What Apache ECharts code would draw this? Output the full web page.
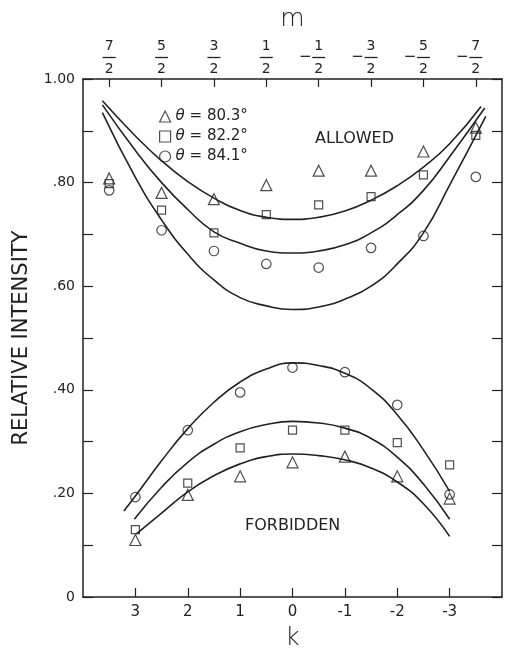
<!DOCTYPE html>
<html>
<head>
<meta charset="utf-8">
<script src="https://cdn.jsdelivr.net/npm/echarts@6/dist/echarts.min.js"></script>
<style>html,body{margin:0;padding:0;background:#fff}#c{width:505px;height:656px}</style>
</head>
<body>
<div id="c"></div>
<script>
// ---- data ----
const mValues = [3.5, 2.5, 1.5, 0.5, -0.5, -1.5, -2.5, -3.5];          // allowed points (top axis m)
const mLabels = [['7','2',false],['5','2',false],['3','2',false],['1','2',false],['1','2',true],['3','2',true],['5','2',true],['7','2',true]];
const kValues = [3, 2, 1, 0, -1, -2, -3];                                // forbidden points (bottom axis k)
const yTicks = [0, 0.2, 0.4, 0.6, 0.8, 1.0];

const allowed80 = [0.808, 0.780, 0.768, 0.795, 0.823, 0.823, 0.860, 0.906];
const allowed82 = [0.798, 0.747, 0.703, 0.738, 0.757, 0.773, 0.815, 0.891];
const allowed84 = [0.785, 0.708, 0.668, 0.643, 0.636, 0.674, 0.697, 0.811];

const forbidden80 = [0.110, 0.197, 0.233, 0.260, 0.271, 0.233, 0.190];
const forbidden82 = [0.130, 0.220, 0.288, 0.322, 0.322, 0.298, 0.255];
const forbidden84 = [0.193, 0.322, 0.395, 0.443, 0.434, 0.371, 0.198];

// fitted curves
const curveA80k = [3.63, 3, 2.5, 2, 1.5, 1, 0.5, 0, -0.5, -1, -1.5, -2, -2.5, -3, -3.6];
const curveA80  = [0.958, 0.890, 0.842, 0.802, 0.770, 0.746, 0.733, 0.729, 0.733, 0.745, 0.766, 0.794, 0.830, 0.875, 0.947];
const curveA82k = [3.63, 3, 2.5, 2, 1.5, 1, 0.5, 0, -0.5, -1, -1.5, -2, -2.5, -3, -3.67];
const curveA82  = [0.950, 0.862, 0.800, 0.748, 0.705, 0.683, 0.668, 0.664, 0.668, 0.680, 0.703, 0.738, 0.785, 0.850, 0.944];
const curveA84k = [3.63, 3, 2.5, 2, 1.5, 1, 0.5, 0, -0.5, -1, -1.5, -2, -2.5, -3, -3.69];
const curveA84  = [0.935, 0.810, 0.728, 0.662, 0.612, 0.578, 0.562, 0.555, 0.560, 0.575, 0.600, 0.643, 0.703, 0.795, 0.928];

const curveF84k = [3.22, 3, 2.5, 2, 1.5, 1, 0.5, 0, -0.5, -1, -1.5, -2, -2.5, -3];
const curveF84  = [0.166, 0.195, 0.263, 0.325, 0.376, 0.415, 0.440, 0.452, 0.447, 0.432, 0.402, 0.352, 0.284, 0.204];
const curveF82k = [3.02, 2.5, 2, 1.5, 1, 0.5, 0, -0.5, -1, -1.5, -2, -2.5, -3];
const curveF82  = [0.150, 0.212, 0.260, 0.295, 0.319, 0.333, 0.339, 0.336, 0.326, 0.306, 0.270, 0.218, 0.150];
const curveF80k = [2.98, 2.5, 2, 1.5, 1, 0.5, 0, -0.5, -1, -1.5, -2, -2.5, -3];
const curveF80  = [0.122, 0.162, 0.203, 0.234, 0.257, 0.271, 0.276, 0.273, 0.265, 0.249, 0.222, 0.180, 0.117];

const names = ['θ = 80.3°', 'θ = 82.2°', 'θ = 84.1°'];

// ---- chart ----
const FONT = 'DejaVu Sans';
const INK = '#222';
const zip = (xs, ys) => xs.map((x, i) => [x, ys[i]]);
const chart = echarts.init(document.getElementById('c'), null, {renderer: 'canvas'});

const markerStyle = {color: 'rgba(255,255,255,0)', borderColor: INK, borderWidth: 1.2};
function scatter(name, xs, ys, symbol, size) {
  return {type: 'scatter', name, data: zip(xs, ys), symbol, symbolSize: size,
          itemStyle: markerStyle, xAxisIndex: 0, yAxisIndex: 0, z: 3};
}
function curve(xs, ys) {
  return {type: 'line', name: 'fit', data: zip(xs, ys), smooth: 0.5, showSymbol: false,
          symbol: 'none', lineStyle: {color: INK, width: 1.6}, xAxisIndex: 0, yAxisIndex: 0, z: 2,
          silent: true};
}

const fracMap = {};
mValues.forEach((m, i) => { fracMap[m] = mLabels[i]; });

const option = {
  animation: false,
  backgroundColor: '#fff',
  grid: {left: 83, right: 3, top: 79, bottom: 52, containLabel: false},
  xAxis: [
    {
      type: 'value', position: 'bottom', min: -4, max: 4, interval: 1, inverse: true,
      axisLine: {show: true, onZero: false, lineStyle: {color: INK, width: 1.5}},
      axisTick: {show: true, inside: true, length: 9, customValues: kValues, lineStyle: {color: INK, width: 1.2}},
      axisLabel: {customValues: kValues, margin: 8, fontSize: 15, fontFamily: FONT, color: INK,
                  formatter: v => String(v)},
      splitLine: {show: false},
      name: 'k', nameLocation: 'middle', nameGap: 29,
      nameTextStyle: {fontSize: 25, fontFamily: FONT, color: INK, fontWeight: 'lighter'}
    },
    {
      type: 'value', position: 'top', min: -4, max: 4, interval: 1, inverse: true,
      axisLine: {show: true, onZero: false, lineStyle: {color: INK, width: 1.5}},
      axisTick: {show: true, inside: true, length: 8, customValues: mValues, lineStyle: {color: INK, width: 1.2}},
      axisLabel: {
        customValues: mValues, margin: 3, color: INK, fontFamily: FONT,
        formatter: v => {
          const f = fracMap[v];
          if (!f) return '';
          const mid = f[2] ? '{mi|−}{b|}{sp|}' : '{b|}';
          return '{n|' + f[0] + '}\n' + mid + '\n{n|' + f[1] + '}';
        },
        rich: {
          n: {fontSize: 14, lineHeight: 14, fontFamily: FONT, color: INK},
          b: {width: 13, height: 1.3, backgroundColor: INK, lineHeight: 9},
          mi: {fontSize: 15, width: 14, lineHeight: 9, fontFamily: FONT, color: INK, align: 'center'},
          sp: {width: 14, lineHeight: 9}
        }
      },
      splitLine: {show: false},
      name: 'm', nameLocation: 'middle', nameGap: 47,
      nameTextStyle: {fontSize: 25, fontFamily: FONT, color: INK, fontWeight: 'lighter'}
    }
  ],
  yAxis: [
    {
      type: 'value', position: 'left', min: 0, max: 1, interval: 0.1,
      axisLine: {show: true, onZero: false, lineStyle: {color: INK, width: 1.5}},
      axisTick: {show: true, inside: true, length: 10, lineStyle: {color: INK, width: 1.2}},
      axisLabel: {
        customValues: yTicks, margin: 8, fontSize: 14, fontFamily: FONT, color: INK,
        formatter: v => {
          if (Math.abs(v) < 1e-9) return '0';
          if (Math.abs(v - 1) < 1e-9) return '1.00';
          return '.' + String(Math.round(v * 100));
        }
      },
      splitLine: {show: false},
      name: 'RELATIVE INTENSITY', nameLocation: 'middle', nameGap: 51, nameRotate: 90,
      nameTextStyle: {fontSize: 21, fontFamily: FONT, color: INK}
    },
    {
      type: 'value', position: 'right', min: 0, max: 1, interval: 0.1,
      axisLine: {show: true, onZero: false, lineStyle: {color: INK, width: 1.5}},
      axisTick: {show: true, inside: true, length: 10, lineStyle: {color: INK, width: 1.2}},
      axisLabel: {show: false},
      splitLine: {show: false}
    }
  ],
  legend: {
    data: names, orient: 'vertical', left: 154, top: 104, itemWidth: 11, itemHeight: 11, itemGap: 5,
    selectedMode: false,
    itemStyle: markerStyle,
    textStyle: {fontSize: 15, fontFamily: FONT, color: INK,
                rich: {i: {fontStyle: 'italic', fontSize: 15, fontFamily: FONT, color: INK}}},
    formatter: n => n.replace('θ', '{i|θ}')
  },
  graphic: [
    {type: 'text', left: 315, top: 131, style: {text: 'ALLOWED', fontSize: 16, fontFamily: FONT, fill: INK}},
    {type: 'text', left: 245, top: 518, style: {text: 'FORBIDDEN', fontSize: 16, fontFamily: FONT, fill: INK}}
  ],
  series: [
    curve(curveA80k, curveA80), curve(curveA82k, curveA82), curve(curveA84k, curveA84),
    curve(curveF84k, curveF84), curve(curveF82k, curveF82), curve(curveF80k, curveF80),
    scatter(names[0], mValues, allowed80, 'triangle', 11),
    scatter(names[1], mValues, allowed82, 'rect', 8),
    scatter(names[2], mValues, allowed84, 'circle', 9.5),
    scatter(names[0], kValues, forbidden80, 'triangle', 11),
    scatter(names[1], kValues, forbidden82, 'rect', 8),
    scatter(names[2], kValues, forbidden84, 'circle', 9.5)
  ]
};
chart.setOption(option);
</script>
</body>
</html>
